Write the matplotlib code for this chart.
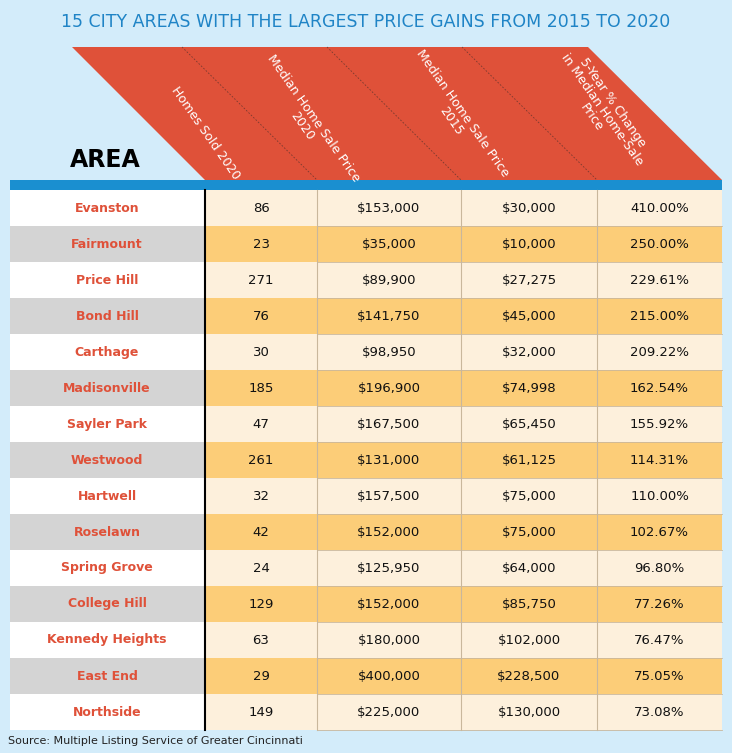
import matplotlib
matplotlib.use("Agg")
import matplotlib.pyplot as plt
from matplotlib.patches import Polygon, Rectangle

areas = ["Evanston","Fairmount","Price Hill","Bond Hill","Carthage","Madisonville","Sayler Park",
         "Westwood","Hartwell","Roselawn","Spring Grove","College Hill","Kennedy Heights","East End","Northside"]
homes_sold = [86,23,271,76,30,185,47,261,32,42,24,129,63,29,149]
price_2020 = [153000,35000,89900,141750,98950,196900,167500,131000,157500,152000,125950,152000,180000,400000,225000]
price_2015 = [30000,10000,27275,45000,32000,74998,65450,61125,75000,75000,64000,85750,102000,228500,130000]
pct_change = [410.00,250.00,229.61,215.00,209.22,162.54,155.92,114.31,110.00,102.67,96.80,77.26,76.47,75.05,73.08]
headers = ["Homes Sold 2020","Median Home Sale Price\n2020","Median Home Sale Price\n2015","5-Year % Change\nin Median Home-Sale\nPrice"]

W, H = 732, 753
fig = plt.figure(figsize=(W/100, H/100), dpi=100, facecolor="#d3ecfa")
ax = fig.add_axes([0, 0, 1, 1])
ax.set_xlim(0, W); ax.set_ylim(H, 0); ax.axis("off")

ax.text(W/2, 22, "15 CITY AREAS WITH THE LARGEST PRICE GAINS FROM 2015 TO 2020",
        ha="center", va="center", fontsize=12.5, color="#1f84c6")

red = "#df5139"
top_y, bot_y = 47, 180
ax.add_patch(Polygon([(72, top_y), (588, top_y), (722, bot_y), (205, bot_y)], closed=True, color=red, lw=0))
cols = [205, 317, 461, 597, 722]
tops = [72, 182, 327, 462, 588]
for i in range(1, 4):
    ax.plot([tops[i], cols[i]], [top_y, bot_y], color="#7a3a30", lw=0.6, ls=(0, (2, 2)))
hx = [205, 308, 457, 602]
hy = [133, 122, 117, 110]
for i in range(4):
    ax.text(hx[i], hy[i], headers[i], rotation=-55,
            ha="center", va="center", color="white", fontsize=9, multialignment="center",
            linespacing=1.05)
ax.text(105, 160, "AREA", ha="center", va="center", fontsize=17, fontweight="bold", color="black")

ax.add_patch(Rectangle((10, 180), 712, 10, color="#1a8fd0", lw=0))
row_h = 36
y0 = 190
for r in range(len(areas)):
    y = y0 + r * row_h
    even = r % 2 == 0
    ax.add_patch(Rectangle((10, y), 195, row_h, color="white" if even else "#d4d4d4", lw=0))
    ax.add_patch(Rectangle((205, y), 517, row_h, color="#fdf0dc" if even else "#fccd78", lw=0))
    cy = y + row_h / 2
    ax.text(107, cy, areas[r], ha="center", va="center", color="#df5139", fontsize=9, fontweight="bold")
    vals = [str(homes_sold[r]), f"${price_2020[r]:,}", f"${price_2015[r]:,}", f"{pct_change[r]:.2f}%"]
    for c in range(4):
        ax.text((cols[c] + cols[c+1]) / 2, cy, vals[c], ha="center", va="center", fontsize=9.5, color="#111")
    ax.plot([317, 722], [y + row_h, y + row_h], color="#c9b79c", lw=0.6)
for x in cols[1:4]:
    ax.plot([x, x], [y0, y0 + 15 * row_h], color="#c9b79c", lw=0.8)
ax.plot([205, 205], [y0, y0 + 15 * row_h], color="black", lw=1.5)
ax.text(8, 741, "Source: Multiple Listing Service of Greater Cincinnati", ha="left", va="center", fontsize=8, color="#222")
fig.savefig("out.png", dpi=100, facecolor=fig.get_facecolor())
